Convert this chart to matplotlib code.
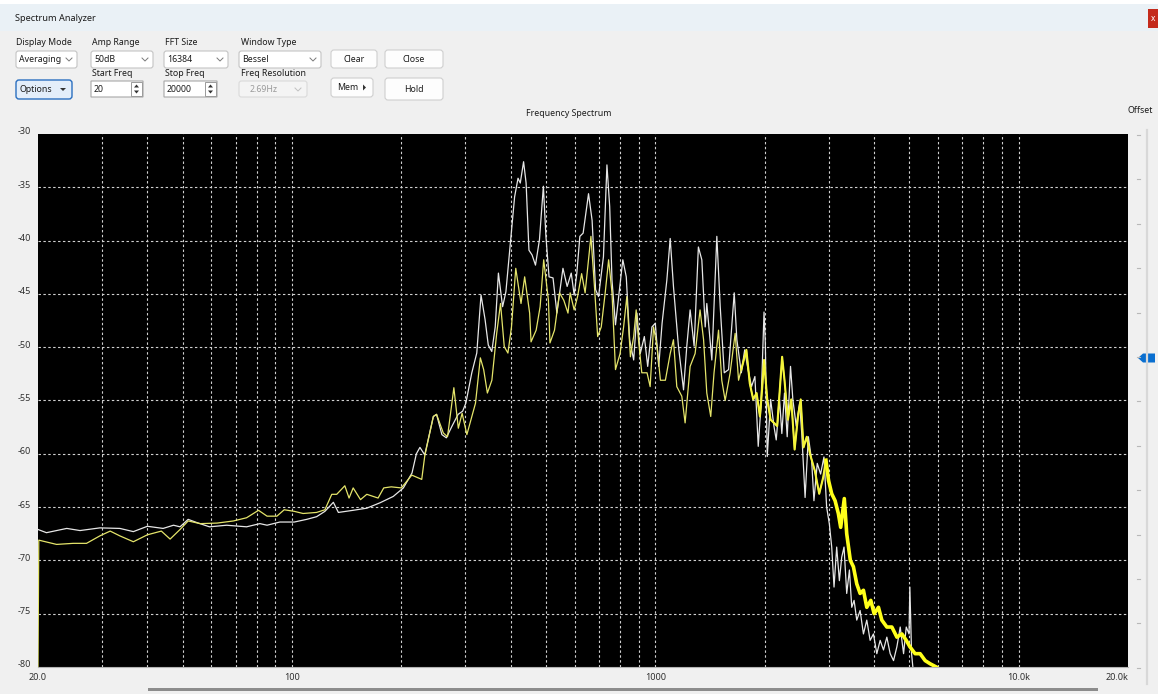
import matplotlib
matplotlib.use('Agg')
import matplotlib.pyplot as plt
import matplotlib.transforms as mtransforms
from matplotlib.patches import Rectangle, FancyBboxPatch, Polygon
from matplotlib.ticker import NullLocator

plt.rcParams['font.family'] = ['Noto Sans', 'DejaVu Sans']

# Trace data (Hz, dB)
whiteFreq = [20, 21.1, 24.0, 26.1, 29.6, 33.6, 36.6, 40, 44.2, 47.2, 49.2, 51.8, 54.7, 59.3, 66.1, 75.0,
             81.6, 85.4, 92.6, 101.5, 109.8, 116.9, 123.2, 130, 134.2, 147.4, 160.7, 174.6, 190, 202.6,
             214, 220, 225, 232, 245, 250, 258.6, 266, 275.8, 286.6, 295, 301, 312.6, 322.6, 331.4, 340,
             347, 354.8, 362.6, 370, 380, 388, 400, 410, 419, 425, 434, 441, 449, 458, 468, 480, 492, 500,
             510, 523, 536, 557, 572, 587, 598, 608, 620, 633, 655, 670, 685, 698, 720, 736, 749, 760, 777,
             793, 814, 832, 850, 872, 890, 909, 933, 953, 979, 1000, 1022, 1044, 1076, 1099, 1122, 1158,
             1196, 1221, 1247, 1279, 1314, 1343, 1372, 1386, 1431, 1477, 1509, 1548, 1591, 1649, 1677,
             1725, 1762, 1800, 1840, 1880, 1920, 1953, 1992, 2008, 2033, 2077, 2121, 2152, 2198, 2230,
             2268, 2307, 2356, 2391, 2443, 2496, 2530, 2584, 2638, 2693, 2733, 2791, 2851, 2912, 2962,
             3014, 3059, 3104, 3157, 3211, 3259, 3307, 3364, 3422, 3473, 3525, 3585, 3662, 3740, 3820,
             3902, 3985, 4071, 4158, 4247, 4338, 4431, 4526, 4623, 4722, 4823, 4906, 4993, 5019, 5074, 5132]
whiteLevel = [-67.1, -67.4, -67.0, -67.2, -66.95, -67.0, -67.3, -66.8, -67.0, -66.7, -66.85, -66.15, -66.45,
              -66.85, -66.7, -66.85, -66.55, -66.7, -66.4, -66.4, -66.15, -65.9, -65.4, -64.55, -65.5,
              -65.3, -65.1, -64.6, -64.0, -63.2, -61.8, -60.0, -59.4, -60.1, -56.5, -56.3, -58.2, -58.5,
              -57.4, -56.3, -56.0, -55.25, -52.4, -50.55, -45.1, -47.4, -49.8, -50.4, -48.1, -43.05, -46.2,
              -44.8, -39.9, -35.9, -34.15, -34.6, -32.6, -34.6, -40.9, -41.35, -42.3, -39.9, -34.9, -39.6,
              -43.4, -43.5, -46.8, -42.6, -44.3, -43.05, -45.1, -43.1, -39.6, -39.3, -35.6, -38.1, -44.6,
              -45.25, -41.5, -32.9, -36.8, -43.7, -47.9, -45.25, -41.8, -43.4, -49.3, -51.2, -46.8, -50.6,
              -49.0, -51.8, -48.1, -47.75, -51.8, -47.75, -43.7, -39.8, -44.3, -49.9, -54.0, -49.9, -46.5,
              -49.9, -40.6, -41.8, -48.1, -45.9, -51.2, -39.6, -46.2, -52.4, -52.1, -44.9, -49.3, -52.4,
              -50.25, -52.1, -53.7, -52.75, -59.3, -55.6, -46.7, -49.6, -60.25, -54.9, -57.4, -58.7, -54.9,
              -58.1, -54.3, -58.4, -51.8, -54.9, -57.4, -55.25, -58.1, -64.1, -58.4, -60.6, -64.4, -60.9,
              -61.9, -60.3, -65.0, -66.6, -68.75, -72.5, -68.75, -71.9, -69.7, -68.75, -73.1, -70.9, -74.4,
              -73.75, -75.6, -74.7, -76.9, -75.6, -77.5, -76.9, -78.75, -77.5, -78.4, -77.2, -78.75, -79.4,
              -78.1, -76.25, -78.75, -76.25, -76.9, -72.5, -78.75, -80.5]

yellowFreq = [20, 20.1, 22.5, 25.0, 27.2, 29.6, 31.6, 33.6, 36.6, 40, 43.7, 46.2, 49.2, 51.8, 55.9, 62.2,
              69.0, 75, 80.9, 85.4, 90.9, 95.2, 101.5, 107.3, 116.9, 123.2, 128.7, 132.8, 139.8, 143.6,
              147.4, 154.4, 160.7, 172.6, 178.9, 187.6, 200, 213.7, 227.6, 232, 245, 250, 261, 268, 279,
              287, 294, 303, 320, 330, 337, 345, 355, 366, 375, 384, 393, 402, 413, 427, 437, 451, 455,
              470, 482, 493, 508, 513, 528, 545, 560, 575, 583, 598, 611, 627, 641, 665, 681, 694, 710,
              728, 744, 760, 777, 800, 818, 835, 854, 872, 886, 899, 918, 949, 968, 989, 1011, 1033, 1066,
              1099, 1122, 1146, 1183, 1208, 1247, 1287, 1328, 1358, 1386, 1421, 1451, 1493, 1524, 1557,
              1607, 1659, 1695, 1725, 1781, 1820, 1860, 1900, 1941, 1970, 1992, 2033, 2077, 2121, 2165,
              2198, 2234, 2268, 2317, 2367, 2418, 2470, 2513, 2558, 2612, 2665, 2749, 2826, 2899, 2949,
              2998, 3059, 3125, 3190, 3238, 3313, 3364, 3442, 3510, 3585, 3662, 3740, 3820, 3918, 4002,
              4114, 4202, 4338, 4478, 4623, 4772, 4906, 5019, 5189, 5356, 5530, 5710, 5935]
yellowLevel = [-80.0, -68.1, -68.5, -68.4, -68.4, -67.7, -67.25, -67.7, -68.25, -67.6, -67.25, -68.0, -67.1,
               -66.3, -66.55, -66.5, -66.3, -66.0, -65.3, -65.85, -65.85, -65.25, -65.4, -65.6, -65.5,
               -65.25, -63.8, -63.8, -63.0, -64.15, -63.2, -64.3, -63.8, -64.15, -63.2, -63.1, -63.2, -62.0,
               -62.4, -60.2, -56.5, -56.3, -58.05, -58.4, -53.8, -57.6, -56.2, -58.2, -55.25, -51.0, -52.1,
               -54.3, -53.1, -48.7, -45.9, -49.95, -50.55, -48.1, -42.6, -45.9, -43.4, -46.8, -49.5, -48.4,
               -46.2, -41.8, -45.6, -49.6, -48.4, -44.9, -45.6, -46.8, -44.9, -46.5, -45.25, -43.1, -44.9,
               -39.6, -44.6, -49.0, -48.1, -44.9, -41.8, -44.9, -52.1, -50.6, -48.1, -45.25, -50.9, -49.0,
               -46.5, -49.3, -52.4, -52.4, -53.7, -48.1, -49.9, -53.1, -53.1, -50.6, -49.3, -53.7, -54.6,
               -57.1, -51.8, -50.6, -46.5, -49.3, -54.3, -56.5, -52.4, -48.4, -53.1, -55.0, -52.4, -48.7,
               -53.1, -52.1, -50.25, -53.4, -54.9, -54.3, -56.5, -53.7, -51.2, -54.9, -56.8, -57.1, -57.4,
               -54.3, -50.9, -53.1, -56.8, -54.9, -59.6, -56.5, -54.9, -59.4, -58.4, -60.0, -61.6, -63.75,
               -62.2, -60.6, -62.5, -63.75, -64.4, -65.6, -66.9, -64.2, -67.5, -70.0, -70.6, -72.2, -73.1,
               -72.8, -74.4, -73.75, -75.0, -74.4, -75.6, -76.25, -76.25, -77.2, -76.9, -77.5, -78.1, -78.75,
               -78.75, -79.4, -79.7, -80.0]

yTicks = [-30, -35, -40, -45, -50, -55, -60, -65, -70, -75, -80]
xTickFreqs = [20, 100, 1000, 10000, 20000]
xTickLabels = ['20.0', '100', '1000', '10.0k', '20.0k']
gridFreqs = [m * 10 ** e for e in (1, 2, 3, 4) for m in range(1, 10) if 20 < m * 10 ** e < 20000]

W, H = 1158, 694
fig = plt.figure(figsize=(W / 100, H / 100), dpi=100, facecolor='#f0f0f0')

# Window chrome drawn in pixel coordinates
ui = fig.add_axes([0, 0, 1, 1], zorder=0)
ui.set_xlim(0, W)
ui.set_ylim(H, 0)
ui.axis('off')

def box(x0, y0, x1, y1, face='#ffffff', edge='#c4c4c4', r=2.5, lw=0.8):
  ui.add_patch(FancyBboxPatch((x0, y0), x1 - x0, y1 - y0, boxstyle='round,pad=0,rounding_size=%s' % r,
                              fc=face, ec=edge, lw=lw))

def label(x, y, s, size=6.3, color='#1b1b1b', ha='left'):
  ui.text(x, y, s, fontsize=size, color=color, ha=ha, va='center')

def chevron(x, y, color='#7a7a7a'):
  ui.plot([x - 3, x, x + 3], [y - 1.5, y + 1.5, y - 1.5], color=color, lw=0.7)

def spinArrows(x0, x1, y0, y1):
  ui.add_patch(Rectangle((x0, y0), x1 - x0, y1 - y0, fc='#ffffff', ec='#9a9a9a', lw=0.7))
  cx = (x0 + x1) / 2
  cy = (y0 + y1) / 2
  ui.add_patch(Polygon([(cx - 2.5, cy - 1.5), (cx + 2.5, cy - 1.5), (cx, cy - 4.5)], fc='#333333'))
  ui.add_patch(Polygon([(cx - 2.5, cy + 1.5), (cx + 2.5, cy + 1.5), (cx, cy + 4.5)], fc='#333333'))

ui.add_patch(Rectangle((0, 0), W, 31, fc='#eaf1f6', ec='none'))
ui.add_patch(Rectangle((0, 0), W, 4, fc='#ffffff', ec='none'))
label(15, 18, 'Spectrum Analyzer', size=6.6)
ui.add_patch(Rectangle((1148, 9), 10, 19, fc='#c42b1c', ec='none'))
ui.text(1153, 18, 'x', color='white', fontsize=6, ha='center', va='center')

label(16, 42, 'Display Mode')
label(92, 42, 'Amp Range')
label(165, 42, 'FFT Size')
label(241, 42, 'Window Type')

box(16, 51, 77, 68)
label(19, 59.5, 'Averaging')
chevron(69, 59.5)
box(91, 51, 153, 68)
label(94, 59.5, '50dB')
chevron(145, 59.5)
box(164, 51, 228, 68)
label(167, 59.5, '16384')
chevron(220, 59.5)
box(239, 51, 321, 68)
label(242, 59.5, 'Bessel')
chevron(313, 59.5)

box(331, 50, 377, 68, face='#fdfdfd', edge='#cfcfcf', r=3)
label(354, 59, 'Clear', ha='center')
box(385, 50, 443, 68, face='#fdfdfd', edge='#cfcfcf', r=3)
label(414, 59, 'Close', ha='center')

label(92, 73, 'Start Freq')
label(165, 73, 'Stop Freq')
label(241, 73, 'Freq Resolution')

box(91, 81, 143, 97, r=0, edge='#a8a8a8')
label(94, 89, '20')
spinArrows(131, 142, 82, 96)
box(164, 81, 217, 97, r=0, edge='#a8a8a8')
label(167, 89, '20000')
spinArrows(205, 216, 82, 96)
box(239, 81, 307, 97, face='#f4f4f4', edge='#dadada')
label(250, 89.5, '2.69Hz', color='#9a9a9a')
chevron(298, 89.5, color='#c0c0c0')

box(16, 80, 72, 99, face='#e3eefa', edge='#2a6fc0', r=3, lw=1.0)
label(20, 89.5, 'Options')
ui.add_patch(Polygon([(60, 88), (66, 88), (63, 91)], fc='#333333'))
box(331, 78, 373, 97, face='#fdfdfd', edge='#cfcfcf', r=3)
label(337, 87.5, 'Mem')
ui.add_patch(Polygon([(363, 84.5), (363, 90.5), (366, 87.5)], fc='#333333'))
box(385, 78, 443, 100, face='#fdfdfd', edge='#cfcfcf', r=3)
label(414, 89, 'Hold', ha='center')

label(569, 113, 'Frequency Spectrum', ha='center')
label(1128, 110, 'Offset')

# Offset slider on the right
ui.plot([1147, 1147], [130, 684], color='#d8d8d8', lw=1.6)
for k in range(13):
  ui.plot([1137, 1140], [135 + k * 44.4, 135 + k * 44.4], color='#b8b8b8', lw=0.8)
ui.add_patch(Polygon([(1138, 358), (1143, 353.5), (1155, 353.5), (1155, 362.5), (1143, 362.5)],
                     fc='#0a6fd0', ec='none'))

ui.add_patch(Rectangle((148, 688), 950, 3, fc='#8c8c8c', ec='none'))

# Spectrum plot
ax = fig.add_axes([38 / W, 27 / H, 1090 / W, 533 / H], zorder=1)
ax.set_facecolor('black')
ax.set_xscale('log')
ax.set_xlim(20, 20000)
ax.set_ylim(-80, -30)

for f in gridFreqs:
  ax.axvline(f, color='#d0d0d0', lw=0.8, linestyle=(0, (2.2, 2.2)), zorder=1)
for lv in yTicks[1:-1]:
  ax.axhline(lv, color='#d0d0d0', lw=0.8, linestyle=(0, (2.2, 2.2)), zorder=1)

ax.plot(whiteFreq, whiteLevel, color='#e6e6e6', lw=0.9, zorder=2)
ax.plot(yellowFreq, yellowLevel, color='#e4e46a', lw=0.9, zorder=3)
# denser, brighter part of the yellow trace at high frequencies
midFreq = [f for f in yellowFreq if f >= 1700]
midLevel = [lv for f, lv in zip(yellowFreq, yellowLevel) if f >= 1700]
ax.plot(midFreq, midLevel, color='#f4f43a', lw=1.5, zorder=3)
hiFreq = [f for f in yellowFreq if f >= 2900]
hiLevel = [lv for f, lv in zip(yellowFreq, yellowLevel) if f >= 2900]
ax.plot(hiFreq, hiLevel, color='#ffff1a', lw=2.6, zorder=3)

ax.set_xticks(xTickFreqs)
ax.set_xticklabels(xTickLabels)
ax.xaxis.set_minor_locator(NullLocator())
ax.set_yticks(yTicks)
ax.set_yticklabels([str(v) for v in yTicks])
ax.tick_params(axis='both', length=0, labelsize=6.5, colors='#303030')
ax.tick_params(axis='x', pad=4)
ax.tick_params(axis='y', pad=5)
ax.get_xticklabels()[-1].set_ha('right')
offset = mtransforms.ScaledTranslation(0, 3 / 100, fig.dpi_scale_trans)
for lbl in ax.get_yticklabels():
  lbl.set_transform(lbl.get_transform() + offset)

for side in ['top', 'left', 'right']:
  ax.spines[side].set_visible(False)
ax.spines['bottom'].set_color('#b4b4b4')
ax.spines['bottom'].set_linewidth(0.8)

plt.savefig('out.png', dpi=100, facecolor=fig.get_facecolor())
